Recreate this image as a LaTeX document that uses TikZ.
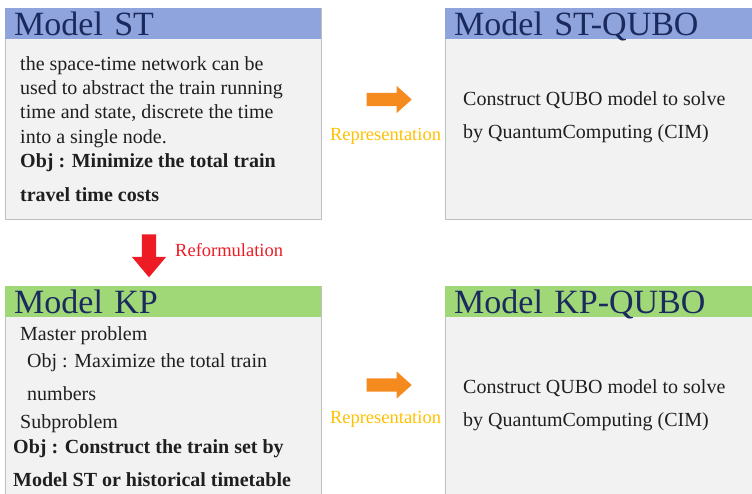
\documentclass[tikz,border=0pt]{standalone}
\usepackage{fontspec}
\setmainfont{Liberation Serif}
\usetikzlibrary{positioning,shapes.arrows}
\definecolor{HeadBlue}{HTML}{8FA4DC}
\definecolor{HeadGreen}{HTML}{A0D878}
\definecolor{BodyGray}{HTML}{F2F2F2}
\definecolor{EdgeGray}{HTML}{BFBFBF}
\definecolor{TitleNavy}{HTML}{1B2A5E}
\definecolor{RepOrange}{HTML}{F58A1F}
\definecolor{RepGold}{HTML}{FFC000}
\definecolor{ReRed}{HTML}{ED1C24}

\begin{document}
\begin{tikzpicture}[x=1pt, y=-1pt,
    body/.style={draw=EdgeGray, line width=0.8pt, fill=BodyGray, anchor=north west,
        inner sep=0pt, minimum width=316pt},
    head/.style={fill=#1, anchor=north west, inner xsep=9pt, inner ysep=0pt,
        minimum width=316pt, text width=298pt, align=left, text height=27pt, text depth=4pt,
        text=TitleNavy, font=\fontsize{34}{34}\selectfont},
    txt/.style={anchor=north west, inner sep=0pt, align=left, text=black!88,
        font=\fontsize{20}{24.4}\selectfont},
    blockarrow/.style={single arrow, fill=#1, draw=none, inner sep=0pt,
        text height=6.5pt, text depth=6.5pt, text width=0pt},
    arrowlabel/.style={inner sep=0pt, text=#1, font=\fontsize{18.5}{18.5}\selectfont},
]
    \useasboundingbox (0,0) rectangle (752,493);

    % Model ST
    \node[body, minimum height=211pt] (stbody) at (5,8) {};
    \node[head=HeadBlue] (sthead) at (stbody.north west) {Model ST};
    \node[txt] (sttext) at (20,56) {the space-time network can be\\
        used to abstract the train running\\
        time and state, discrete the time\\
        into a single node.\\
        \textbf{Obj : Minimize the total train}\\[9pt]
        \textbf{travel time costs}};

    % Model ST-QUBO
    \node[body, minimum height=211pt, minimum width=330pt] (sqbody) at (445,8) {};
    \node[head=HeadBlue] (sqhead) at (sqbody.north west) {Model ST-QUBO};
    \node[txt] (sqtext) at (463,91) {Construct QUBO model to solve\\[9pt]
        by QuantumComputing (CIM)};

    % Model KP
    \node[body, minimum height=230pt] (kpbody) at (5,286) {};
    \node[head=HeadGreen] (kphead) at (kpbody.north west) {Model KP};
    \node[txt] (kptext) at (13,326) {\hspace*{7pt}Master problem\\[3pt]
        \hspace*{14pt}Obj : Maximize the total train\\[9pt]
        \hspace*{14pt}numbers\\[3pt]
        \hspace*{7pt}Subproblem\\[1pt]
        \textbf{Obj : Construct the train set by}\\[8pt]
        \textbf{Model ST or historical timetable}};

    % Model KP-QUBO
    \node[body, minimum height=230pt, minimum width=330pt] (kqbody) at (445,286) {};
    \node[head=HeadGreen] (kqhead) at (kqbody.north west) {Model KP-QUBO};
    \node[txt] (kqtext) at (463,379) {Construct QUBO model to solve\\[9pt]
        by QuantumComputing (CIM)};

    % Block arrows and their labels
    \node[blockarrow=RepOrange, minimum height=45pt, single arrow head extend=7pt,
        single arrow tip angle=84] (reptop) at (385.5,99.5) {};
    \node[arrowlabel=RepGold, below=22pt of reptop] (reptoplabel) {Representation};

    \node[blockarrow=RepOrange, minimum height=45pt, single arrow head extend=7pt,
        single arrow tip angle=84] (repbot) at (385.5,385) {};
    \node[arrowlabel=RepGold, below=19pt of repbot] (repbotlabel) {Representation};

    \node[blockarrow=ReRed, minimum height=43pt, single arrow head extend=10pt,
        text height=7pt, text depth=7pt, single arrow tip angle=80, rotate=-90] (reform) at (149,251.5) {};
    \node[arrowlabel=ReRed, anchor=west] (reformlabel) at (175,250) {Reformulation};
\end{tikzpicture}
\end{document}
